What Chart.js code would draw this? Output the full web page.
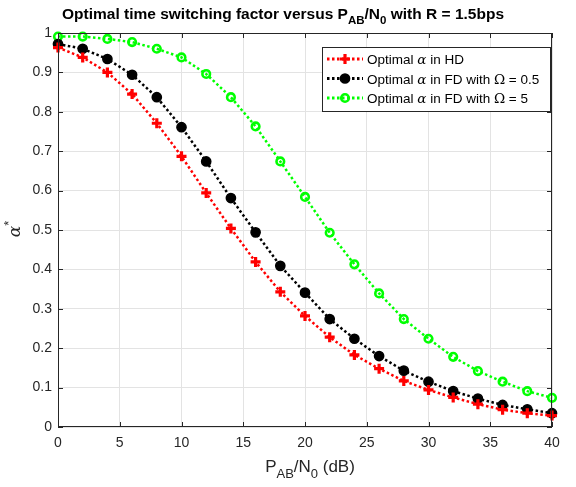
<!DOCTYPE html>
<html>
<head>
<meta charset="utf-8">
<script src="https://cdn.jsdelivr.net/npm/chart.js@4/dist/chart.umd.min.js"></script>
<style>
  html, body { margin: 0; padding: 0; background: #fff; }
  canvas { display: block; }
</style>
</head>
<body>
<canvas id="alphaChart" width="576" height="487"></canvas>
<script>
// time switching factor vs P_AB/N0, R = 1.5 bps
var snr = [0, 2, 4, 6, 8, 10, 12, 14, 16, 18, 20, 22, 24, 26, 28, 30, 32, 34, 36, 38, 40];
var alphaHD = [0.963, 0.938, 0.900, 0.845, 0.771, 0.687, 0.594, 0.504, 0.419, 0.343, 0.282,
               0.228, 0.183, 0.148, 0.117, 0.094, 0.075, 0.058, 0.044, 0.035, 0.029];
var alphaFD05 = [0.972, 0.960, 0.934, 0.894, 0.837, 0.761, 0.674, 0.581, 0.494, 0.409, 0.341,
                 0.274, 0.224, 0.180, 0.143, 0.115, 0.091, 0.072, 0.056, 0.045, 0.035];
var alphaFD5 = [0.991, 0.991, 0.985, 0.977, 0.960, 0.938, 0.896, 0.837, 0.763, 0.674, 0.584,
                0.493, 0.413, 0.339, 0.274, 0.224, 0.178, 0.142, 0.115, 0.091, 0.074];
var legendNames = [
  ['Optimal ', 'α', ' in HD'],
  ['Optimal ', 'α', ' in FD with ', 'Ω', ' = 0.5'],
  ['Optimal ', 'α', ' in FD with ', 'Ω', ' = 5']
];

var FONT = '"Liberation Sans", Arial, Helvetica, sans-serif';
var SERIF = '"DejaVu Serif", "Liberation Serif", serif';
var AXIS = '#262626';

function pts(ys) {
  return snr.map(function (x, i) { return { x: x, y: ys[i] }; });
}

// draw a run of text pieces, each with its own font and vertical shift
function richText(ctx, parts, x, y, align) {
  var w = 0;
  parts.forEach(function (p) { ctx.font = p.f; w += ctx.measureText(p.t).width; });
  var cx = align === 'center' ? x - w / 2 : x;
  ctx.textAlign = 'left';
  ctx.textBaseline = 'alphabetic';
  parts.forEach(function (p) {
    ctx.font = p.f;
    ctx.fillText(p.t, cx, y + (p.dy || 0));
    cx += ctx.measureText(p.t).width;
  });
}

function marker(ctx, ds, x, y) {
  ctx.save();
  ctx.strokeStyle = ds.pointBorderColor;
  ctx.fillStyle = ds.pointBackgroundColor;
  ctx.lineWidth = ds.pointBorderWidth;
  var r = ds.pointRadius;
  ctx.beginPath();
  if (ds.pointStyle === 'cross') {
    ctx.moveTo(x - r, y); ctx.lineTo(x + r, y);
    ctx.moveTo(x, y - r); ctx.lineTo(x, y + r);
    ctx.stroke();
  } else {
    ctx.arc(x, y, r, 0, Math.PI * 2);
    ctx.fill();
    ctx.stroke();
  }
  ctx.restore();
}

var decor = {
  id: 'decor',
  afterDraw: function (chart) {
    var ctx = chart.ctx, a = chart.chartArea;
    var xs = chart.scales.x, ys = chart.scales.y;
    ctx.save();

    // box and inward ticks on all four sides
    ctx.strokeStyle = AXIS;
    ctx.lineWidth = 1;
    ctx.strokeRect(a.left + 0.5, a.top + 0.5, a.right - a.left - 1, a.bottom - a.top - 1);
    ctx.beginPath();
    xs.ticks.forEach(function (t) {
      var px = Math.round(xs.getPixelForValue(t.value)) + 0.5;
      ctx.moveTo(px, a.bottom); ctx.lineTo(px, a.bottom - 5);
      ctx.moveTo(px, a.top); ctx.lineTo(px, a.top + 5);
    });
    ys.ticks.forEach(function (t) {
      var py = Math.round(ys.getPixelForValue(t.value)) + 0.5;
      ctx.moveTo(a.left, py); ctx.lineTo(a.left + 5, py);
      ctx.moveTo(a.right, py); ctx.lineTo(a.right - 5, py);
    });
    ctx.stroke();

    // title
    ctx.fillStyle = '#000';
    var tb = 'bold 15.5px ' + FONT, ts = 'bold 11.5px ' + FONT;
    richText(ctx, [
      { t: 'Optimal time switching factor versus P', f: tb },
      { t: 'AB', f: ts, dy: 5 },
      { t: '/N', f: tb },
      { t: '0', f: ts, dy: 5 },
      { t: ' with R = 1.5bps', f: tb }
    ], 283, 19, 'center');

    // axis titles
    ctx.fillStyle = AXIS;
    var lb = '17px ' + FONT, ls = '13px ' + FONT;
    richText(ctx, [
      { t: 'P', f: lb },
      { t: 'AB', f: ls, dy: 6 },
      { t: '/N', f: lb },
      { t: '0', f: ls, dy: 6 },
      { t: ' (dB)', f: lb }
    ], 310, 472, 'center');

    ctx.save();
    ctx.translate(20, 229);
    ctx.rotate(-Math.PI / 2);
    richText(ctx, [
      { t: 'α', f: 'italic 17px ' + SERIF },
      { t: '*', f: '13px ' + FONT, dy: -7 }
    ], 0, 0, 'center');
    ctx.restore();

    // legend box
    var bx = 322, by = 47, bw = 228, bh = 64;
    ctx.fillStyle = '#fff';
    ctx.fillRect(bx, by, bw, bh);
    ctx.strokeStyle = AXIS;
    ctx.strokeRect(bx + 0.5, by + 0.5, bw, bh);
    chart.data.datasets.forEach(function (ds, i) {
      var ry = by + 12 + i * 19.5;
      ctx.save();
      ctx.strokeStyle = ds.borderColor;
      ctx.lineWidth = ds.borderWidth + 0.5;
      ctx.setLineDash(ds.borderDash);
      ctx.beginPath();
      ctx.moveTo(bx + 5, ry); ctx.lineTo(bx + 41, ry);
      ctx.stroke();
      ctx.restore();
      marker(ctx, ds, bx + 23, ry);
      ctx.fillStyle = '#000';
      var parts = legendNames[i].map(function (s) {
        var greek = s === 'α' || s === 'Ω';
        return { t: s, f: greek ? (s === 'α' ? 'italic ' : '') + '13.5px ' + SERIF : '13.5px ' + FONT };
      });
      richText(ctx, parts, bx + 45, ry + 5, 'left');
    });
    ctx.restore();
  }
};

function series(ys, color, style, radius, fill, bw) {
  return {
    data: pts(ys),
    borderColor: color,
    borderWidth: 2.5,
    borderDash: [2.5, 2.5],
    pointStyle: style,
    pointRadius: radius,
    pointBorderColor: color,
    pointBackgroundColor: fill,
    pointBorderWidth: bw,
    fill: false,
    tension: 0,
    clip: false
  };
}

new Chart(document.getElementById('alphaChart'), {
  type: 'line',
  data: {
    datasets: [
      series(alphaHD, '#ff0000', 'cross', 5, '#ff0000', 3.2),
      series(alphaFD05, '#000000', 'circle', 4.6, '#000000', 1.5),
      series(alphaFD5, '#00ff00', 'circle', 3.8, 'rgba(0,0,0,0)', 2.6)
    ]
  },
  plugins: [decor],
  options: {
    responsive: false,
    animation: false,
    layout: { padding: { top: 33, right: 24, left: 0, bottom: 0 } },
    plugins: { legend: { display: false }, title: { display: false }, tooltip: { enabled: false } },
    scales: {
      x: {
        type: 'linear', min: 0, max: 40,
        afterFit: function (s) { s.height = 60; },
        ticks: { stepSize: 5, color: AXIS, padding: 8, font: { family: FONT, size: 14 } },
        grid: { color: '#e3e3e3', drawTicks: false },
        border: { display: false }
      },
      y: {
        min: 0, max: 1,
        afterFit: function (s) { s.width = 58; },
        ticks: {
          stepSize: 0.1, color: AXIS, padding: 6, font: { family: FONT, size: 14 },
          callback: function (v) { return String(+v.toFixed(1)); }
        },
        grid: { color: '#e3e3e3', drawTicks: false },
        border: { display: false }
      }
    }
  }
});
</script>
</body>
</html>
